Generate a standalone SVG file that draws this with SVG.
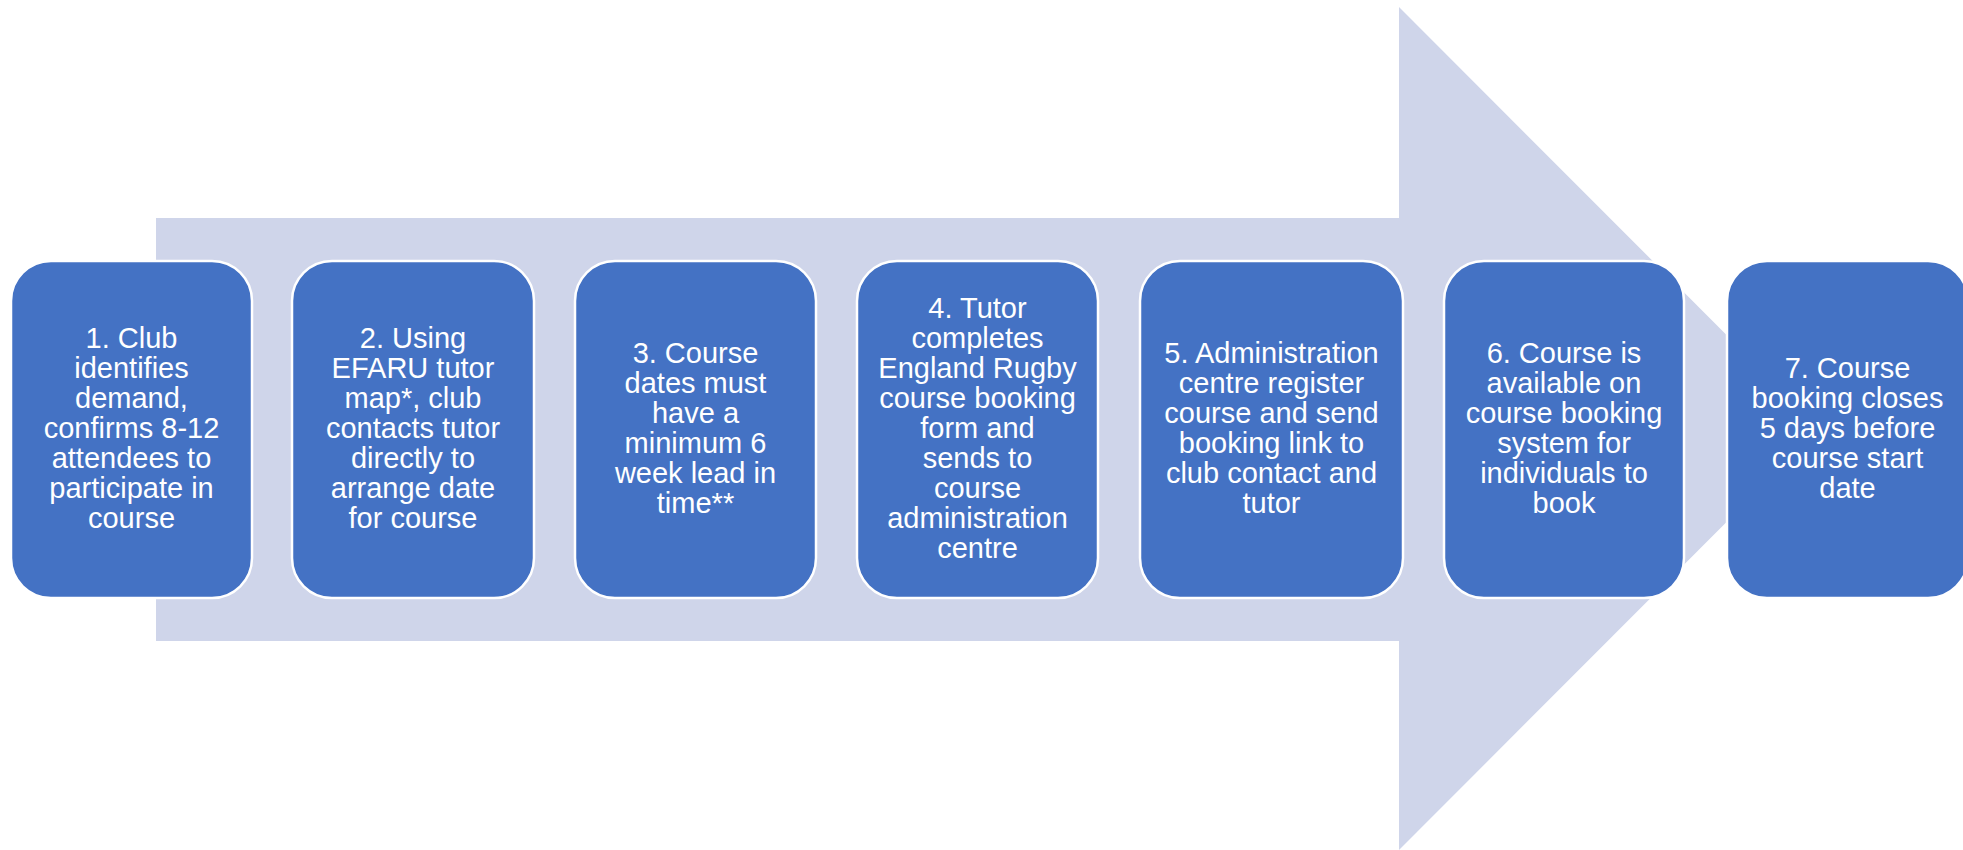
<svg xmlns="http://www.w3.org/2000/svg" width="1963" height="850" viewBox="0 0 1963 850">
<style>
.box{fill:#4472C4;stroke:#FFFFFF;stroke-width:2.5}
.t{font-family:"Liberation Sans",Arial,sans-serif;font-size:29px;fill:#FFFFFF;text-anchor:middle}
</style>
<rect width="1963" height="850" fill="#FFFFFF"/>
<g id="connectors">
<polygon points="156,218 1399,218 1399,7 1820,428.5 1399,850 1399,641 156,641" fill="#CFD5EA"/>
</g>
<g id="node1">
<rect class="box" x="11" y="261" width="241" height="337" rx="40"/>
<text class="t"><tspan x="131.5" y="348">1. Club</tspan><tspan x="131.5" y="378">identifies</tspan><tspan x="131.5" y="408">demand,</tspan><tspan x="131.5" y="438">confirms 8-12</tspan><tspan x="131.5" y="468">attendees to</tspan><tspan x="131.5" y="498">participate in</tspan><tspan x="131.5" y="528">course</tspan></text>
</g>
<g id="node2">
<rect class="box" x="292" y="261" width="242" height="337" rx="40"/>
<text class="t"><tspan x="413" y="348">2. Using</tspan><tspan x="413" y="378">EFARU tutor</tspan><tspan x="413" y="408">map*, club</tspan><tspan x="413" y="438">contacts tutor</tspan><tspan x="413" y="468">directly to</tspan><tspan x="413" y="498">arrange date</tspan><tspan x="413" y="528">for course</tspan></text>
</g>
<g id="node3">
<rect class="box" x="575" y="261" width="241" height="337" rx="40"/>
<text class="t"><tspan x="695.5" y="363">3. Course</tspan><tspan x="695.5" y="393">dates must</tspan><tspan x="695.5" y="423">have a</tspan><tspan x="695.5" y="453">minimum 6</tspan><tspan x="695.5" y="483">week lead in</tspan><tspan x="695.5" y="513">time**</tspan></text>
</g>
<g id="node4">
<rect class="box" x="857" y="261" width="241" height="337" rx="40"/>
<text class="t"><tspan x="977.5" y="318">4. Tutor</tspan><tspan x="977.5" y="348">completes</tspan><tspan x="977.5" y="378">England Rugby</tspan><tspan x="977.5" y="408">course booking</tspan><tspan x="977.5" y="438">form and</tspan><tspan x="977.5" y="468">sends to</tspan><tspan x="977.5" y="498">course</tspan><tspan x="977.5" y="528">administration</tspan><tspan x="977.5" y="558">centre</tspan></text>
</g>
<g id="node5">
<rect class="box" x="1140" y="261" width="263" height="337" rx="40"/>
<text class="t"><tspan x="1271.5" y="363">5. Administration</tspan><tspan x="1271.5" y="393">centre register</tspan><tspan x="1271.5" y="423">course and send</tspan><tspan x="1271.5" y="453">booking link to</tspan><tspan x="1271.5" y="483">club contact and</tspan><tspan x="1271.5" y="513">tutor</tspan></text>
</g>
<g id="node6">
<rect class="box" x="1444" y="261" width="240" height="337" rx="40"/>
<text class="t"><tspan x="1564" y="363">6. Course is</tspan><tspan x="1564" y="393">available on</tspan><tspan x="1564" y="423">course booking</tspan><tspan x="1564" y="453">system for</tspan><tspan x="1564" y="483">individuals to</tspan><tspan x="1564" y="513">book</tspan></text>
</g>
<g id="node7">
<rect class="box" x="1727" y="261" width="241" height="337" rx="40"/>
<text class="t"><tspan x="1847.5" y="378">7. Course</tspan><tspan x="1847.5" y="408">booking closes</tspan><tspan x="1847.5" y="438">5 days before</tspan><tspan x="1847.5" y="468">course start</tspan><tspan x="1847.5" y="498">date</tspan></text>
</g>
</svg>
